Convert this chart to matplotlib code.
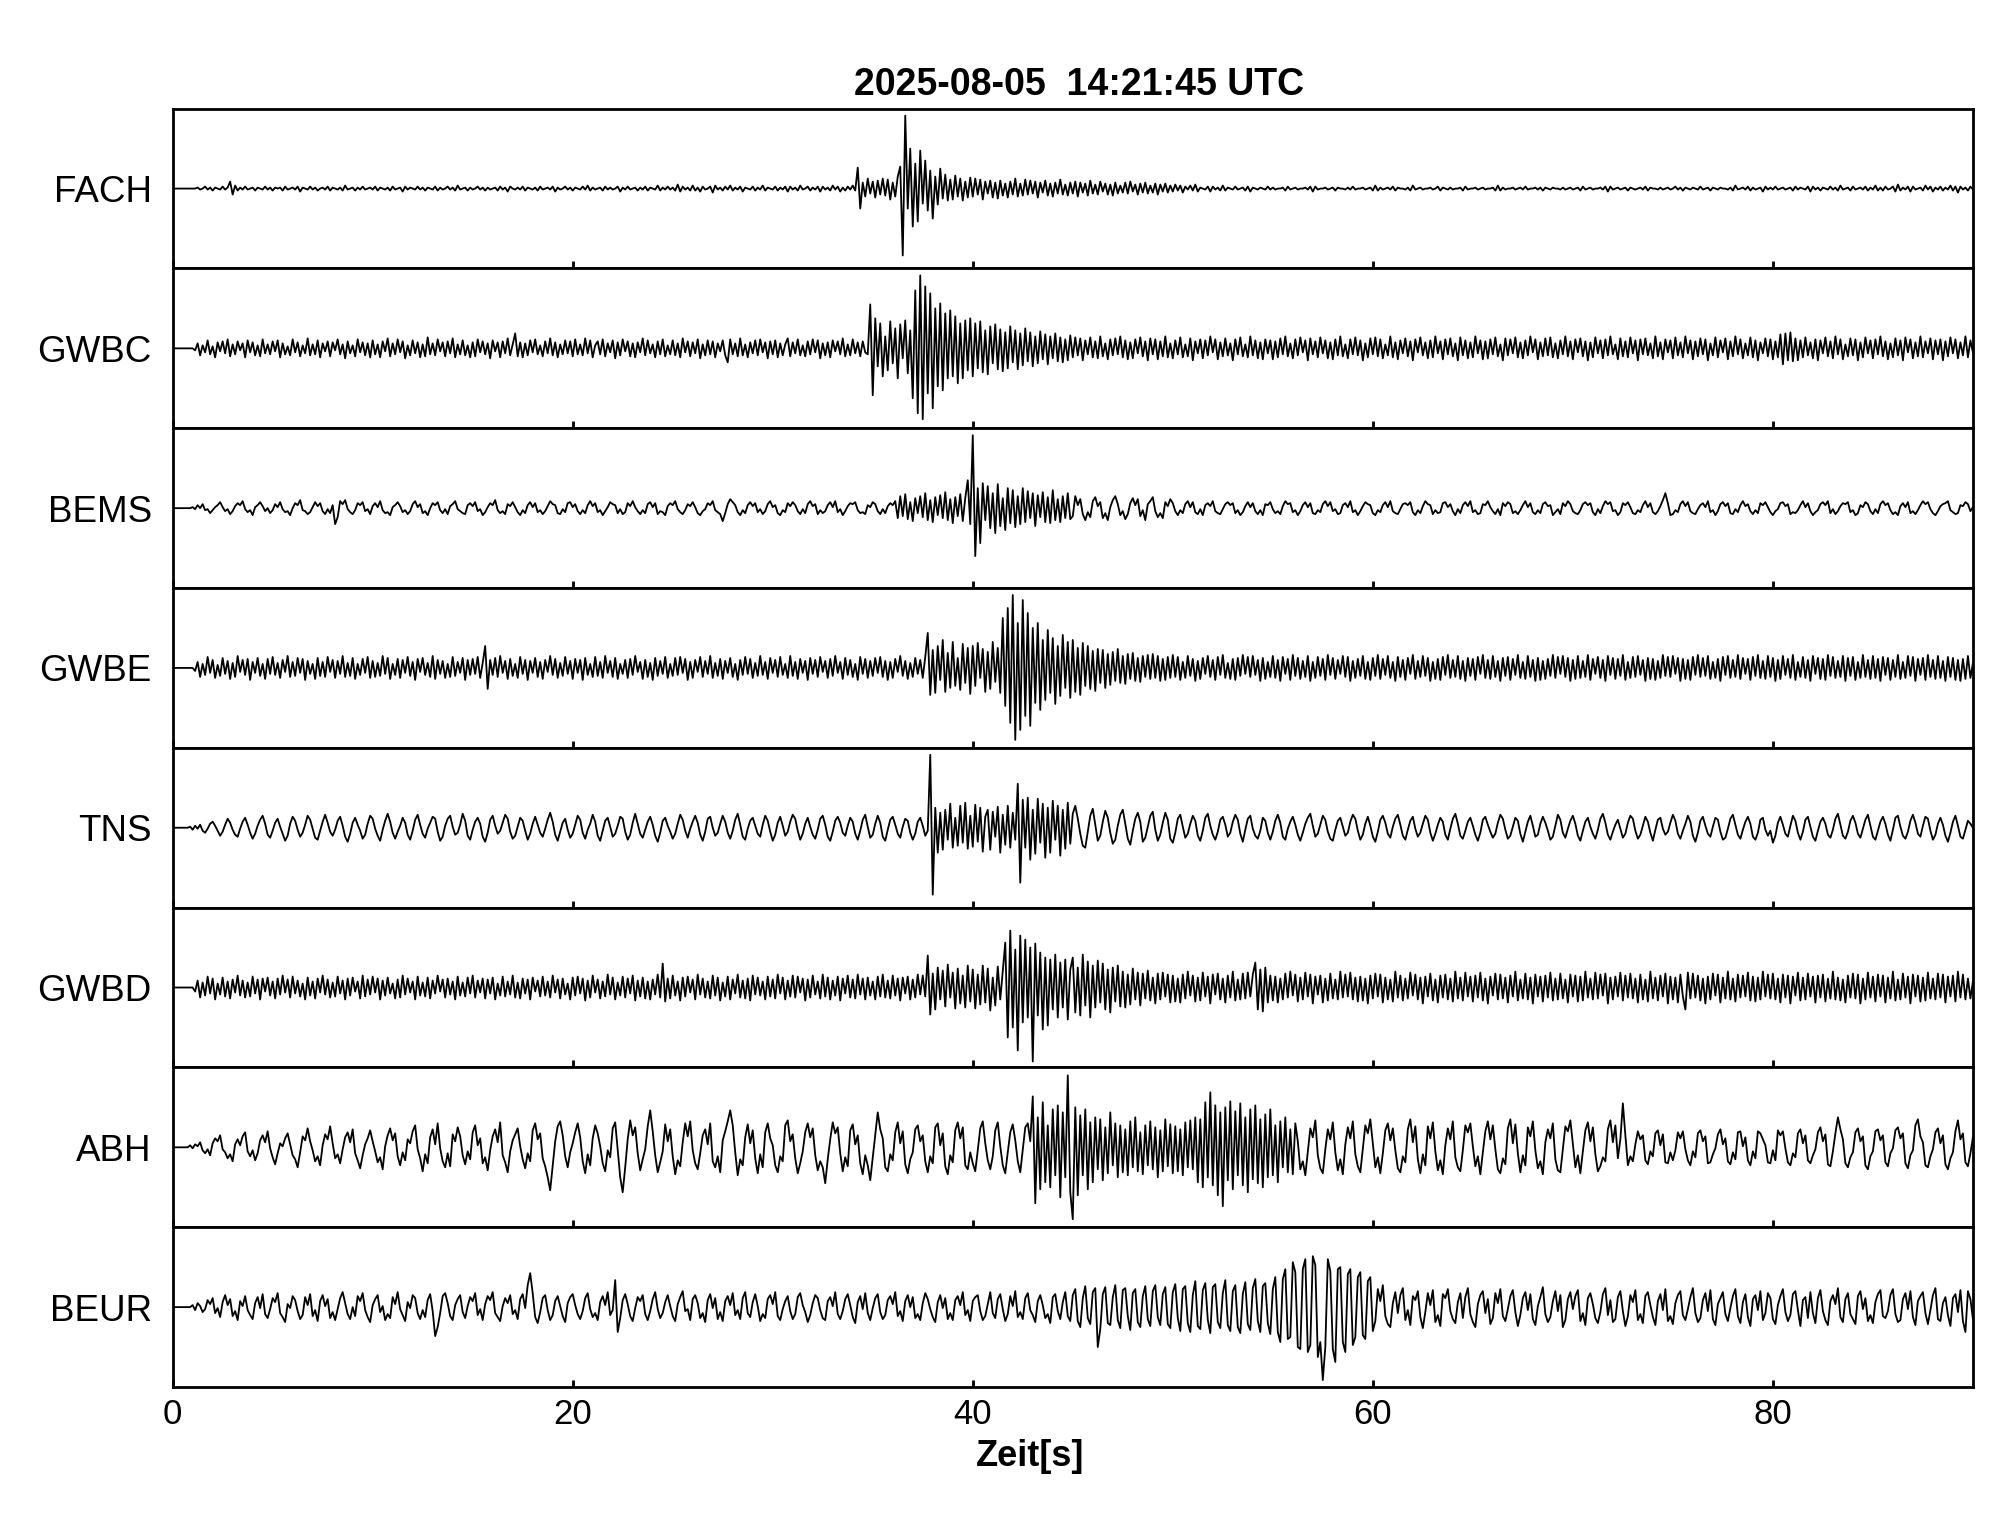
import numpy as np
import matplotlib
matplotlib.use("Agg")
import matplotlib.pyplot as plt

plt.rcParams['font.family'] = ['Liberation Sans', 'DejaVu Sans']

# station names, top to bottom
stations = ["FACH", "GWBC", "BEMS", "GWBE", "TNS", "GWBD", "ABH", "BEUR"]
title_text = "2025-08-05  14:21:45 UTC"
dt = 0.125  # seconds between samples

# traces, one line per 5 s (amplitude: +-80 = panel edge)
fach = [
    0,0,0,0,0,0,0,0,0,0, 1,-1,0,2,-1,1,-2,1,0,-1, 2,-1,1,7,-6,3,-2,1,-1,2, -1,0,1,-2,1,0,-1,2,-1,1,
    -2,1,0,1,-2,2,-1,0,1,-1, 2,-3,1,0,-1,2,-1,1,-2,0, 1,-1,2,-2,1,0,-1,1,-2,3, -1,0,1,-2,1,-1,2,-1,0,1,
    -1,2,-2,1,0,-1,1,-2,2,-1, 0,1,-3,2,-1,1,0,-1,2,-1, 1,-2,1,0,-1,2,-2,1,-1,0, 2,-1,1,-2,3,-1,0,1,-2,1,
    -1,0,2,-1,1,-2,1,-1,0,1, -2,2,-1,1,-3,2,0,-1,1,-1, 2,-2,1,0,-1,1,-2,2,-1,0, 1,-1,2,-3,1,-1,0,2,-1,1,
    -2,1,0,-1,2,-1,3,-2,1,-1, 0,1,-2,2,-1,1,-1,0,2,-3, 1,-1,2,-1,0,1,-2,1,-1,2, -2,1,0,-1,3,-2,1,-1,2,-1,
    1,-2,4,-3,2,-1,1,-2,3,-2, 1,-3,2,-1,0,2,-4,3,-1,1, -2,2,-1,3,-2,1,-1,2,-3,1, 0,-1,2,-2,1,-1,3,-2,1,0,
    -1,2,-2,1,-1,2,-3,2,-1,1, -2,3,-1,0,2,-2,1,-1,2,-3, 2,-1,1,-2,3,-1,2,-3,1,-2, 2,-1,3,-2,21,-20,6,-8,10,-5,
    7,-9,8,-6,10,-7,9,-11,6,-8, 12,22,-67,73,-20,40,-38,25,-33,38, -15,28,-22,18,-30,12,-16,20,-10,14, -12,9,-11,13,-8,10,-12,7,-9,11,
    -8,10,-6,9,-11,7,-5,8,-9,6, -10,8,-7,5,-9,7,-6,10,-8,5, -7,9,-6,8,-5,7,-9,6,-4,8, -7,5,-8,6,-5,9,-6,4,-7,6,
    -5,7,-8,6,-4,5,-7,8,-5,4, -6,7,-3,5,-6,4,-7,6,-5,3, -4,6,-5,7,-3,4,-6,5,-4,6, -5,3,-4,5,-6,4,-3,5,-4,3,
    -3,4,-2,3,-4,2,-1,3,-2,4, -3,1,0,-1,2,-3,2,-1,1,-2, 3,-2,1,0,-1,2,-1,0,1,-2, 2,-3,1,0,-1,1,0,-1,2,-1,
    1,-1,0,0,1,-2,2,-1,0,1, -1,0,0,1,-1,2,-3,2,-1,0, 0,1,-1,0,1,-2,1,0,0,-1, 1,-1,2,-1,0,0,1,-1,0,1,
    -2,3,-2,1,-1,0,1,-1,2,-2, 1,0,0,-1,1,-2,3,-1,0,1, -1,0,0,1,-1,0,2,-2,1,0, -1,1,-1,0,0,1,-2,2,-1,0,
    0,1,-1,0,1,-1,0,0,1,-2, 3,-2,1,-1,0,0,1,-1,0,1, -1,2,-1,0,0,1,-1,1,-2,1, 0,-1,1,0,0,-1,1,-1,0,1,
    -1,0,1,-2,2,-1,0,1,-1,0, 0,1,-1,2,-3,2,-1,0,1,-1, 0,1,-2,1,0,-1,0,1,-1,2, -2,1,0,0,-1,1,-1,0,1,-1,
    0,2,-1,1,-2,1,0,-1,1,0, -1,2,-1,0,1,-2,1,0,-1,1, 0,0,-1,1,-2,3,-1,0,1,-1, 2,-2,1,-1,0,1,-3,2,-1,1,
    -1,2,-1,0,1,-1,0,1,-2,2, -1,1,0,-1,2,-3,2,-1,1,-2, 1,0,-1,2,-1,1,-2,3,-1,0, 1,-2,2,-1,0,1,-1,2,-2,1,
    -1,3,-2,1,-2,2,-1,0,2,-3, 4,-2,1,-1,2,-3,2,-1,0,1, -2,3,-1,2,-3,1,-1,2,-2,1, -1,3,-2,2,-4,2,-1,1,-2,2,
    -1,
]
gwbc = [
    0,0,0,0,0,0,0,0,0,-2, 5,-7,3,-4,8,-6,2,-9,6,-3, 7,-5,9,-8,4,-6,7,-2,5,-9, 8,-4,6,-7,3,-8,9,-5,4,-6,
    7,-3,8,-9,5,-6,2,-7,9,-4, 6,-8,3,-5,10,-7,4,-6,8,-9, 5,-3,7,-8,6,-2,9,-6,4,-10, 7,-5,3,-8,9,-4,6,-7,5,-9,
    8,-6,4,-9,7,-3,10,-8,5,-6, 9,-4,7,-10,3,-7,8,-5,6,-9, 4,-8,11,-6,5,-7,9,-3,6,-8, 7,-5,10,-9,4,-6,8,-7,3,-9,
    6,-8,9,-4,7,-6,5,-10,8,-3, 6,-9,7,-5,10,-7,4,15,-8,6, -9,5,-7,8,-4,9,-6,3,-8,7, -5,10,-7,6,-9,4,-6,8,-5,7,
    -8,9,-6,4,-7,10,-5,8,-9,3, 7,-6,9,-8,5,-4,8,-10,6,-7, 9,-3,7,-8,5,-9,6,-4,10,-7, 8,-5,4,-9,7,-6,9,-8,3,-6,
    8,-7,5,-9,10,-4,7,-8,6,-5, 9,-10,4,-7,8,-6,7,-9,5,-3, 8,-7,-14,9,-6,5,-8,10,-7,4, -9,6,-5,8,-7,9,-4,6,-10,7,
    -6,8,-9,5,-7,4,10,-8,6,-5, 9,-7,3,-8,7,-6,9,-4,8,-10, 5,-7,6,-9,8,-3,7,-6,10,-8, 4,-7,9,-5,6,-8,7,-4,-6,44,
    -47,30,-18,25,-28,12,-22,27,-15,20, -30,24,-10,28,-25,18,-50,58,-65,73, -71,62,-45,55,-60,40,-38,45,-42,35, -30,38,-28,32,-35,25,-30,28,-22,30,
    -28,25,-20,27,-24,18,-26,22,-15,24, -21,19,-23,16,-20,22,-14,18,-21,15, -17,20,-13,16,-18,12,-15,17,-11,14, -16,12,-10,15,-13,11,-14,9,-12,13,
    -9,11,-7,10,-12,8,-6,11,-9,7, -10,12,-8,5,-11,9,-7,10,-6,12, -9,8,-11,6,-10,9,-5,11,-8,7, -12,10,-6,9,-11,7,-8,12,-9,5,
    -10,8,-6,11,-9,4,-8,10,-12,7, -5,9,-10,8,-7,12,-4,9,-11,6, -8,10,-7,5,-12,9,-6,11,-8,4, -9,12,-7,8,-10,6,-11,9,-5,8,
    -11,7,-9,10,-6,12,-8,5,-10,9, -7,11,-4,8,-12,10,-6,7,-9,11, -5,8,-10,6,-11,9,-7,12,-8,4, -10,9,-6,11,-7,8,-12,5,-9,10,
    -6,11,-8,9,-10,4,-7,12,-9,6, -11,8,-5,10,-8,7,-12,9,-4,11, -7,6,-10,8,-9,12,-5,7,-11,9, -6,10,-8,5,-12,11,-7,8,-10,6,
    -9,12,-5,8,-11,7,-10,9,-6,11, -8,4,-12,10,-7,9,-5,11,-9,6, -10,8,-7,12,-4,9,-11,6,-8,10, -7,11,-9,5,-10,8,-6,12,-8,7,
    -11,9,-4,10,-8,7,-12,6,-9,11, -5,8,-10,9,-7,12,-6,4,-11,10, -8,7,-9,11,-5,8,-12,9,-6,10, -7,5,-10,12,-8,6,-11,9,-4,8,
    -10,11,-7,6,-9,12,-5,8,-11,7, -8,10,-6,9,-12,5,-7,11,-9,8, -4,10,-11,7,-8,12,-6,9,-10,5, -7,11,-9,8,-12,6,-5,10,-8,9,
    -11,7,-9,14,-16,15,-12,16,-13,10, -12,8,-9,11,-7,6,-10,9,-12,8, -5,11,-8,7,-10,12,-6,9,-11,4, -8,10,-7,9,-12,6,-9,11,-5,8,
    -10,9,-6,12,-8,7,-11,5,-9,10, -7,8,-12,11,-4,9,-10,6,-8,12, -9,7,-5,10,-11,8,-6,9,-12,7, -8,11,-5,9,-10,6,-7,12,-9,8,
    -4,
]
bems = [
    0,0,0,0,0,0,0,0,1,-1, 3,0,4,-2,-1,-5,-2,1,3,6, 1,-3,-1,-6,-3,2,5,3,7,-1, -4,-2,-7,1,3,6,2,-3,0,-5,
    -2,4,1,6,-1,-4,-3,-7,0,5, 3,8,-2,-3,-6,-4,1,6,2,5, -3,-6,-1,-5,3,-16,-9,7,4,8, -1,-4,-6,-2,5,3,6,-3,-1,-6,
    2,5,1,7,-2,-5,-4,-7,1,3, 6,2,-4,-2,-6,-3,4,7,1,4, -5,-3,-7,0,5,3,6,-2,-5,-1, -6,2,4,7,-1,-3,-5,-6,3,5,
    2,6,-3,-1,-7,-4,1,5,3,8, -2,-5,-3,-6,4,2,6,1,-4,-7, -2,-5,3,6,1,5,-4,-2,-6,-3, 2,7,4,3,-5,-6,-1,-4,5,6,
    1,4,-3,-6,-2,-5,3,7,2,5, -4,-2,-7,-3,1,6,4,3,-5,-1, -6,-4,5,2,7,1,-3,-6,-2,-5, 4,6,1,5,-6,-3,-4,-7,2,5,
    3,7,-1,-4,-6,-2,4,2,6,1, -5,-7,-3,-1,5,3,7,-2,-4,-6, -13,-5,4,9,6,3,-4,-7,-2,-5, 3,6,2,5,-4,-1,-6,-3,4,7,
    1,3,-5,-7,-2,-4,5,2,6,3, -3,-6,-1,-5,4,7,2,4,-6,-2, -5,-3,3,6,1,7,-4,-1,-7,-3, 2,5,4,6,-2,-5,-4,-6,3,1,
    6,4,-3,-6,-1,-5,2,5,3,7, -10,12,-8,14,-11,6,-13,10,-5,12, -9,15,-12,8,-14,11,-7,13,-10,16, -12,9,-15,11,-8,14,-13,10,28,-16,
    73,-48,20,-35,25,-12,22,-20,15,-25, 24,-18,10,-22,20,-15,18,-19,12,-16, 20,-14,17,-10,15,-18,13,-9,16,-14, 11,-15,18,-12,9,-14,12,-10,15,-11,
    -8,12,3,9,-6,-12,-4,-9,7,11, 2,6,-10,-5,-12,1,8,12,4,-7, -3,-11,-6,5,10,3,9,-8,-2,-12, 4,7,11,-3,-9,-5,-10,6,2,9,
    5,-3,-7,-2,-5,4,7,1,6,-4, -6,-1,-7,3,5,2,7,-3,-5,-6, -1,4,6,3,5,-5,-2,-7,-4,2, 6,1,5,-3,-6,-2,-7,4,3,6,
    -1,-5,-3,-6,2,7,4,5,-4,-2, -7,-3,3,6,1,5,-5,-6,-2,-4, 4,7,2,6,-3,-1,-6,-5,3,5, 1,7,-4,-2,-7,-3,2,6,4,3,
    -5,-7,-2,-4,3,6,1,7,-3,-5, -6,-1,4,5,3,6,-4,-7,-2,-5, 2,7,4,3,-6,-2,-5,-4,5,6, 1,4,-3,-7,-1,-5,3,6,2,7,
    -4,-2,-6,-5,4,3,7,1,-3,-6, -1,-7,5,2,6,4,-5,-3,-6,-2, 3,7,1,5,-4,-6,-2,-5,4,6, 2,3,-7,-4,-1,-6,5,2,7,4,
    -3,-5,-6,-2,4,6,3,5,-4,-7, -1,-5,2,7,4,6,-3,-2,-7,-4, 5,3,6,1,-5,-6,-2,-4,3,7, 1,5,-4,-6,-3,2,8,15,5,-7,
    -6,-2,-4,4,7,2,6,-3,-5,-6, -1,3,5,1,7,-4,-2,-7,-3,4, 6,2,5,-5,-6,-1,-4,3,7,2, 4,-3,-6,-2,-5,5,3,6,1,-4,
    -7,-3,-1,5,6,2,4,-6,-4,-5, -2,3,7,1,5,-3,-7,-4,-2,4, 6,3,7,-5,-1,-6,-3,2,5,4, 6,-4,-2,-7,-5,3,1,6,4,-3,
    -6,-1,-5,4,7,3,5,-2,-6,-4, -7,2,5,1,6,-5,-3,-6,-2,3, 7,4,6,-1,-5,-7,-3,2,4,5, 7,-2,-4,-6,-5,3,2,6,4,-3,
    1,
]
gwbe = [
    0,0,0,0,0,0,0,0,0,-3, 6,-9,4,-7,11,-5,8,-10,3,-8, 10,-6,7,-11,5,-9,12,-4,8,-7, 9,-12,6,-5,10,-8,4,-11,9,-6,
    11,-7,5,-10,8,-4,12,-9,6,-8, 10,-5,9,-12,7,-6,4,-11,10,-8, 6,-9,11,-4,8,-10,7,-6,12,-9, 5,-8,10,-11,4,-7,9,-5,11,-10,
    7,-9,5,-8,12,-6,10,-11,4,-7, 9,-10,8,-5,11,-8,6,-12,9,-4, 10,-7,5,-9,12,-11,8,-6,7,-10, 4,-9,11,-8,6,-5,10,-12,8,-7,
    9,-6,11,-10,5,22,-21,8,-7,10, -9,12,-5,7,-11,9,-8,4,-10,11, -6,8,-12,7,-5,10,-9,6,-11,8, -4,12,-7,9,-10,5,-8,11,-6,7,
    -11,9,-5,8,-12,10,-7,4,-9,11, -8,6,-10,12,-5,7,-9,10,-11,4, -6,8,-10,9,-7,12,-4,6,-11,8, -9,5,-12,10,-8,7,-6,11,-10,4,
    -8,10,-7,11,-5,9,-12,6,-10,8, -4,11,-9,7,-6,12,-10,5,-8,9, -11,7,-5,10,-9,4,-12,8,-7,11, -6,9,-10,5,-8,12,-7,6,-11,10,
    -5,8,-9,11,-7,4,-10,12,-8,6, -11,9,-5,7,-12,10,-6,8,-9,11, -4,7,-10,9,-8,12,-5,6,-11,10, -7,8,-9,4,-12,11,-6,9,-10,7,
    -8,10,-5,11,-9,7,-12,6,-10,9, -4,12,-8,7,-11,5,-9,10,-6,8, -10,11,35,-27,18,-25,22,-12,28,-24, 15,-20,26,-18,10,-22,24,-15,20,-26,
    22,-18,25,-10,19,-24,16,-21,26,-14, 20,-25,50,-38,60,-55,73,-72,45,-62, 68,-48,55,-58,40,-35,45,-42,28,-32, 38,-25,30,-36,22,-28,33,-20,26,-30,
    28,-24,20,-27,25,-18,22,-21,17,-23, 19,-15,18,-20,14,-17,16,-13,19,-15, 12,-16,14,-11,15,-13,10,-14,12,-9, 13,-11,14,-10,12,-13,9,-12,11,-10,
    13,-9,11,-12,6,-10,12,-8,9,-13, 7,-11,10,-6,12,-9,8,-12,11,-7, 13,-10,5,-11,9,-12,10,-8,13,-6, 11,-9,12,-7,8,-13,10,-11,6,-9,
    12,-10,8,-13,11,-6,9,-12,13,-8, 10,-11,7,-9,12,-13,6,-10,11,-8, 9,-12,13,-7,10,-11,8,-6,12,-9, 11,-13,7,-10,9,-8,12,-11,6,-12,
    10,-8,13,-11,9,-7,12,-10,6,-13, 11,-9,8,-12,10,-6,13,-11,7,-9, 12,-8,10,-13,6,-11,9,-12,11,-7, 13,-10,8,-9,12,-11,7,-13,10,-8,
    9,-12,11,-6,13,-10,8,-11,12,-9, 7,-13,10,-8,11,-12,9,-7,13,-10, 6,-11,12,-9,8,-13,10,-12,7,-11, 9,-8,13,-10,11,-6,12,-9,10,-13,
    8,-11,12,-10,7,-9,13,-12,9,-6, 11,-10,8,-13,12,-7,10,-11,9,-8, 13,-12,6,-10,11,-9,12,-7,8,-13, 10,-11,9,-12,7,-10,13,-8,11,-9,
    12,-6,10,-13,9,-11,8,-12,11,-7, 13,-9,10,-8,12,-11,6,-10,9,-13, 11,-7,12,-10,8,-9,13,-11,10,-6, 9,-12,11,-8,13,-10,7,-11,12,-9,
    10,-13,8,-11,12,-7,9,-10,13,-12, 6,-9,11,-10,8,-13,12,-6,10,-11, 9,-12,13,-8,11,-10,7,-9,12,-13, 10,-8,11,-12,6,-10,13,-9,8,-11,
    12,-10,9,-13,11,-7,10,-12,8,-9, 13,-11,6,-10,12,-8,11,-13,9,-7, 10,-12,13,-9,8,-11,12,-10,7,-13, 11,-9,10,-12,8,-13,9,-11,12,-10,
    5,
]
tns = [
    0,0,0,0,0,0,0,1,-2,2, -1,3,-3,-5,-1,4,6,2,-3,-8, -4,3,9,5,-2,-7,-9,-1,6,10, 3,-5,-11,-6,2,8,12,4,-7,-10,
    -3,5,9,1,-6,-13,-8,4,11,7, -2,-9,-5,3,12,8,-1,-10,-12,-3, 6,13,5,-4,-8,-2,7,11,2,-9, -14,-6,5,10,3,-3,-11,-7,4,12,
    9,-1,-8,-13,-2,7,14,6,-5,-11, -4,2,10,5,-7,-12,-3,8,13,3, -6,-10,-1,5,11,9,-4,-13,-9,2, 9,12,1,-7,-5,3,14,7,-8,-12,
    -2,6,10,4,-9,-14,-5,8,12,2, -6,-3,5,13,9,-4,-11,-8,1,10, 7,-3,-12,-6,4,11,3,-5,-9,-1, 8,15,6,-7,-13,-4,5,9,-2,-10,
    -6,3,12,8,-5,-11,-2,4,13,6, -8,-13,-3,7,10,1,-9,-6,2,11, 9,-4,-12,-7,5,14,4,-6,-10,-2, 6,11,3,-8,-14,-5,7,10,2,-4,
    -11,-6,4,13,8,-3,-10,-1,6,12, 5,-7,-13,-4,9,11,0,-8,-5,4, 12,6,-5,-11,-3,8,14,3,-9,-12, -1,7,10,2,-6,-9,3,12,7,-4,
    -13,-7,5,11,2,-8,-4,6,13,9, -3,-12,-6,4,10,1,-7,-11,-2,9, 12,3,-9,-13,-4,7,11,5,-5,-8, 2,10,6,-6,-12,-3,8,13,1,-10,
    -7,4,12,5,-9,-13,-2,8,11,3, -6,-10,1,9,7,-5,-12,-6,6,10, 2,-8,-3,73,-67,20,-25,15,-22,18, -12,24,-20,10,-18,22,-15,25,-21,12,
    -19,23,-14,20,-24,11,18,-22,16,-9, 21,-25,13,-17,22,-20,15,-12,44,-55, 28,-20,30,-32,18,-26,29,-15,24,-30, 20,-25,27,-12,22,-28,18,-21,25,-16,
    14,22,9,-6,-18,-20,-4,12,19,3, -13,-8,6,17,10,-5,-16,-12,2,13, 18,4,-11,-17,-3,9,15,6,-14,-10, 1,12,16,-2,-13,-7,5,15,8,-11,
    -15,-5,9,13,1,-10,-6,4,12,7, -8,-13,-3,10,14,2,-7,-12,-4,8, 11,3,-9,-5,6,13,8,-6,-14,-2, 9,12,-1,-8,-11,-3,10,7,-5,-12,
    -4,7,13,5,-9,-12,-1,6,11,3, -7,-13,-5,4,10,14,2,-9,-6,3, 12,8,-4,-11,-13,-2,7,10,1,-8, -5,6,13,9,-3,-12,-7,4,11,2,
    -9,-14,-4,8,12,5,-6,-10,1,9, 13,3,-8,-12,-2,7,11,-1,-9,-5, 4,12,8,-5,-13,-6,3,10,6,-7, -12,-1,9,14,4,-8,-11,-3,6,10,
    2,-7,-13,-5,8,11,3,-4,-10,-6, 5,13,9,-2,-11,-8,1,10,7,-6, -14,-4,6,12,2,-9,-7,4,11,5, -3,-12,-9,2,13,8,-5,-10,-1,7,
    12,4,-8,-13,-3,6,10,1,-6,-11, -2,9,14,5,-7,-12,-4,3,8,-1, -10,-6,5,12,9,-3,-11,-7,2,11, 6,-5,-13,-2,8,10,-1,-7,-4,5,
    13,7,-6,-11,-3,4,12,6,-8,-14, -5,7,11,2,-6,-9,1,10,8,-4, -12,-10,-1,9,13,3,-7,-11,-2,6, 11,4,-9,-12,-5,8,10,-2,-8,-3,
    -15,-8,5,11,3,-6,-9,2,12,7, -5,-12,-4,8,11,1,-9,-13,-3,6, 10,4,-7,-10,-2,9,14,3,-8,-11, -4,7,12,5,-6,-10,-1,8,13,2,
    -9,-12,-3,6,11,4,-7,-13,-2,10, 12,1,-8,-11,-4,7,13,5,-6,-9, 2,11,9,-3,-12,-7,4,10,3,-8, -14,-5,6,12,2,-9,-11,-2,7,4,
    0,
]
gwbd = [
    0,0,0,0,0,0,0,0,0,-4, 7,-10,5,-8,11,-6,9,-12,4,-7, 10,-9,6,-11,8,-5,12,-8,7,-10, 5,-9,11,-6,8,-12,9,-4,10,-8,
    6,-11,9,-7,12,-5,8,-10,11,-6, 7,-9,4,-12,10,-8,6,-11,9,-5, 12,-7,8,-10,5,-9,11,-6,7,-12, 9,-8,10,-4,6,-11,12,-9,8,-7,
    11,-5,9,-12,7,-8,10,-6,4,-11, 8,-10,12,-7,9,-5,6,-12,11,-8, 5,-9,10,-11,7,-6,12,-4,8,-10, 9,-7,6,-12,11,-8,5,-9,10,-6,
    12,-10,7,-5,9,-11,8,-6,10,-12, 4,-8,11,-9,6,-7,12,-10,5,-11, 9,-6,8,-12,10,-4,7,-9,11,-8, 6,-10,12,-5,8,-11,9,-7,4,-12,
    10,-8,11,-6,9,-13,7,-10,12,-5, 8,-11,6,-9,13,-7,10,-12,5,-8, 11,-10,9,-6,12,-13,7,-9,10,-11, 6,-12,8,-7,13,-10,24,-14,9,-11,
    12,-8,6,-13,10,-9,11,-5,8,-12, 13,-7,9,-10,6,-11,12,-8,10,-13, 5,-9,11,-12,8,-6,13,-10,7,-11, 9,-13,12,-7,10,-8,6,-12,11,-9,
    8,-11,13,-6,10,-12,7,-9,12,-10, 11,-5,9,-13,8,-10,12,-7,6,-11, 13,-9,10,-12,7,-8,11,-13,9,-6, 12,-10,8,-11,13,-7,9,-12,10,-8,
    6,-12,11,-9,13,-10,7,-11,12,-8, 9,-13,10,-6,11,-12,8,-10,13,-7, 12,-9,32,-27,14,-22,20,-12,17,-19, 23,-10,15,-21,19,-16,12,-20,22,-14,
    18,-21,13,-17,22,-15,19,-23,10,-18, 21,-12,16,45,-50,57,-40,38,-63,52, -35,48,-30,40,-74,44,-28,35,-42,30, -38,28,-22,33,-30,25,-20,28,-32,18,
    30,-25,20,-28,33,-18,26,-30,22,-20, 27,-15,24,-22,18,-25,20,-14,22,-19, 16,-20,13,-17,19,-12,15,-18,14,-11, 17,-13,10,-16,14,-12,15,-9,13,-15,
    12,-14,9,-15,13,-11,16,-8,12,-14, 10,-13,15,-9,11,-16,13,-7,14,-12, 9,-15,12,-10,16,-13,8,-12,14,-11, 15,-9,13,25,-22,18,-24,20,-15,12,
    -13,11,-15,9,-12,14,-10,16,-8,13, -14,10,-12,15,-9,13,-16,11,-7,12, -15,9,-13,14,-11,8,-12,16,-10,13, -9,15,-12,10,-14,11,-13,9,-16,12,
    -11,14,-9,13,-15,10,-12,8,-14,16, -10,12,-13,9,-11,15,-8,13,-12,10, -16,11,-9,14,-13,8,-15,12,-10,13, -12,9,-14,16,-11,10,-13,15,-9,11,
    -14,12,-10,15,-13,9,-16,11,-8,14, -12,13,-11,10,-15,12,-9,16,-13,8, -11,14,-12,10,-16,13,-9,11,-14,12, -10,15,-13,9,-12,14,-11,8,-15,13,
    -9,12,-14,11,-13,16,-10,9,-12,15, -11,13,-8,14,-16,10,-12,11,-9,15, -13,12,-10,14,-11,9,-15,13,-12,8, -14,16,-11,10,-13,12,-9,14,-16,11,
    -12,10,-15,13,-9,-22,15,-11,14,-10, 12,-13,9,-16,11,-12,14,-8,13,-15, 10,-11,16,-12,9,-14,13,-10,12,-9, 15,-13,11,-14,10,-12,16,-9,13,-11,
    14,-12,9,-15,13,-10,12,-16,11,-8, 15,-13,10,-12,14,-9,11,-15,12,-10, 13,-14,9,-11,16,-12,10,-13,8,-15, 12,-10,14,-11,13,-16,9,-12,15,-10,
    11,-14,13,-9,12,-15,10,-11,16,-13, 8,-12,14,-10,11,-16,13,-9,12,-14, 10,-13,15,-11,9,-12,14,-10,13,-15, 11,-9,12,-14,16,-10,13,-12,9,-11,
    6,
]
abh = [
    0,0,0,0,0,0,0,2,-1,3, 1,5,-3,-6,-2,-8,4,9,6,12, -2,-5,-11,-7,-14,3,8,2,11,15, -4,-9,-3,-13,-6,7,12,5,16,-1,
    -10,-17,-6,4,1,9,14,3,-8,-12, -20,-5,11,7,19,6,-3,-14,-9,-18, 2,13,8,21,4,-11,-7,-16,-2,10, 15,5,18,-6,-13,-21,-8,3,9,17,
    6,-4,-15,-10,-22,1,12,19,7,14, -9,-18,-5,-13,8,4,16,22,-2,-11, -24,-7,-16,10,18,3,24,-1,-14,-20, -6,-19,13,6,20,11,-8,-17,-4,-12,
    15,22,2,9,-16,-10,-23,-3,11,18, 5,25,-8,-15,-25,-4,7,13,19,1, -12,-21,-6,-14,17,24,8,14,-11,-19, -30,-43,-18,6,21,26,12,-9,-20,-5,
    4,15,24,10,-14,-26,-7,-18,9,22, 14,1,-16,-24,-3,-10,19,25,-2,-30, -45,-20,8,27,12,20,-6,-23,-12,-2, 21,37,16,-8,-25,-15,-4,23,6,18,
    -9,-27,-13,-19,5,24,11,26,-3,-16, -22,-6,12,18,3,24,-14,-20,-9,-25, 7,16,26,37,22,-5,-28,-12,-18,10, 23,4,17,-11,-26,-7,-20,15,24,9,
    2,-18,-25,-9,-14,22,27,6,13,-11, -26,-16,-4,15,24,10,19,-8,-23,-14, -20,-36,-12,8,25,14,20,-6,-24,-10, -19,17,23,3,12,-16,-27,-8,-18,-33,
    -10,14,35,18,9,-20,-24,-7,-13,15, 25,4,16,-17,-26,-12,-5,18,22,6, 12,-14,-25,-9,-16,20,24,2,14,-19, -27,-8,-15,17,25,9,20,-18,-22,-5,
    -16,-24,-3,19,26,4,-13,-22,-9,17, 25,1,-18,-26,-5,15,23,7,-14,-25, -2,20,24,6,51,-56,30,-42,45,-35, 22,-40,38,-28,42,-50,35,-30,72,-45,
    -72,40,-48,32,-28,38,-42,25,-35,30, -22,28,-33,20,-26,35,-18,24,-30,22, -25,18,-28,26,-20,30,-24,15,-27,22, -18,26,-22,20,-30,17,-24,28,-19,23,
    -26,21,-24,18,-28,25,-20,27,-22,30, -35,28,-40,45,-30,55,-38,42,-48,35, -59,40,-33,46,-42,36,-28,44,-38,30, -45,38,-32,42,-36,28,-40,33,-30,38,
    -28,22,-35,26,-20,30,-25,18,-27,24, 6,-22,-14,-28,-4,19,10,27,-8,-21, -26,-2,18,8,25,-5,-23,-12,-27,3, 20,9,26,-7,-19,-25,-1,22,14,28,
    4,-20,-10,-26,-6,17,24,7,19,-3, -21,-25,-9,-15,18,28,5,21,-12,-26, -7,-18,21,9,25,-4,-23,-13,-27,2, 19,8,26,-10,-20,-24,-3,22,15,24,
    1,-19,-9,-27,-5,16,26,8,22,-2, -22,-26,-11,-17,19,28,4,23,-6,-25, -8,-18,20,11,26,-3,-21,-14,-27,5, 18,9,24,-12,-23,-25,-2,21,16,27,
    3,-20,-8,-26,-4,17,25,6,20,-7, -24,-19,-10,-14,18,27,5,22,-11,8, 44,12,-18,-9,-14,3,16,8,12,-13, -17,-4,-9,14,17,2,13,-15,-16,-5,
    -13,-3,15,9,16,-2,-13,-18,-4,-10, 14,17,6,11,-16,-15,-7,-1,13,18, 3,9,-14,-17,-5,-12,15,16,1,10, -13,-18,-4,-11,16,14,8,2,-15,-16,
    -3,-13,17,12,16,-1,-15,-18,-6,-10, 14,18,4,12,-13,-16,-8,-2,15,20, 6,13,-17,-19,-4,14,30,18,8,-16, -20,-10,-5,15,19,6,11,-18,-22,-9,
    -4,16,18,7,12,-15,-19,-6,-1,17, 20,9,14,-16,-21,-8,-3,22,28,11, 5,-18,-20,-9,-2,15,19,4,12,-17, -22,-11,-5,16,27,8,14,-15,-19,-6,
    10,
]
beur = [
    0,0,0,0,0,0,0,0,2,-3, 4,1,-5,-2,7,3,9,-6,-1,-10, 5,12,2,8,-9,-4,-13,6,1,11, -3,-8,-12,4,10,-1,13,-7,-11,-2,
    9,5,14,-6,-10,-15,3,-1,11,7, -4,-12,-8,10,2,13,-9,-3,-14,6, 12,1,8,-11,-5,-13,-2,9,15,4, -7,-12,0,-9,11,6,14,-3,-10,-15,
    2,8,12,-5,1,-13,-7,-11,10,3, 15,-2,-8,-14,5,-1,12,9,-6,-12, -3,-10,7,13,-4,-29,-20,-6,11,14, 4,-9,-13,2,8,12,-5,-11,1,10,
    6,14,-8,-2,-13,3,11,7,15,-6, -10,-14,1,9,4,12,-7,-3,-12,8, 13,-1,22,34,14,-10,-16,-5,9,12, -3,-13,-8,6,11,1,-9,-15,4,10,
    13,2,-7,-12,-4,9,14,-2,-10,-6, -13,5,11,2,15,-8,-3,27,-25,-11, 7,13,3,-9,-14,-1,10,6,12,-7, -13,-4,8,15,-2,-11,-6,5,12,1,
    -9,-14,3,10,16,-4,-2,-13,8,12, 4,-11,-6,-15,7,13,-1,9,-12,-5, -14,6,11,2,14,-8,-3,-12,9,15, -6,-10,5,13,1,-14,-7,-11,8,12,
    3,15,-9,-13,-2,6,11,-4,-12,-7, 10,14,2,-5,-15,-8,4,12,9,-3, -11,-13,6,10,1,15,-7,-12,-4,8, 13,2,-10,-16,5,11,-2,14,-6,-13,
    -1,9,13,-5,-12,-8,7,11,3,15, -9,-4,-14,6,12,0,10,-11,-7,-13, 4,14,8,-2,-10,-15,5,12,-1,9, -12,-6,-13,7,11,2,15,-8,-3,-14,
    6,10,12,-4,-13,-9,3,15,-6,-11, 8,13,-2,-14,-7,11,1,16,-10,-5, -12,9,14,-3,-8,-15,6,12,2,-11, -7,-16,10,13,-4,-12,5,15,-9,-14,
    12,18,-14,-20,9,21,-11,-17,15,19, -40,-22,13,20,-16,-18,10,22,-13,-21, 17,19,-9,-23,14,18,-15,-20,11,21, -12,-19,16,22,-10,-18,13,20,-17,-21,
    15,23,-11,-24,18,21,-16,-25,12,26, -19,-22,17,24,-13,-26,20,23,-15,-21, 14,27,-18,-24,16,22,-20,-26,13,25, -17,-23,19,28,-14,-25,21,24,-16,-27,
    18,30,-25,-35,28,38,-32,-30,45,35, -40,-42,38,48,-45,-38,51,42,-50,-35, -73,-40,48,36,-42,-55,38,40,-35,-45, 33,38,-38,-30,30,35,-28,-32,26,30,
    -24,-14,18,6,22,-9,-17,-20,4,15, -6,12,19,-13,-3,-18,11,7,16,-10, -21,-5,14,2,17,-15,-8,-19,13,9, 18,-4,-12,-16,5,14,-11,10,19,-7,
    -15,-20,3,12,16,-6,8,-17,-11,14, 4,18,-9,-14,-2,11,17,-5,-19,-8, 9,15,-3,13,-12,-18,1,10,20,-7, -15,-10,6,16,-4,12,-20,-13,8,15,
    -2,11,17,-14,-6,-18,9,14,3,-11, -16,-5,13,19,-8,7,-15,-12,10,16, -4,-19,-9,12,5,17,-13,-7,-16,11, 15,2,-10,-18,6,13,-3,18,-14,-9,
    -17,4,12,16,-8,-13,-2,10,19,-6, -15,-11,7,14,-4,17,-12,-18,3,9, 15,-7,-14,-1,11,18,-9,-16,5,13, -10,-19,8,12,-3,16,-13,-6,14,9,
    -12,-17,2,11,18,-5,-14,-8,13,16, -3,-19,7,10,-11,15,-6,-16,9,17, -4,-13,-18,6,12,3,19,-10,-15,8, 14,-7,-12,-17,11,16,-2,9,-14,-8,
    -16,5,13,17,-9,-11,-4,12,18,-7, -15,-13,8,14,-2,16,-10,-18,6,11, 15,-6,-17,-3,12,19,-12,-14,4,10, -8,-19,9,13,-5,17,-14,-25,16,8,
    -12,
]
traces = [fach, gwbc, bems, gwbe, tns, gwbd, abh, beur]

fig, axes = plt.subplots(len(stations), 1, figsize=(20.05, 15.22), dpi=100,
                         sharex=True, gridspec_kw={"hspace": 0})
fig.subplots_adjust(left=0.0861, right=0.984, top=0.9286, bottom=0.0887)

for ax, name, tr in zip(axes, stations, traces):
    t = np.arange(len(tr)) * dt
    ax.plot(t, tr, color="black", lw=1.3)
    ax.set_xlim(0, 90)
    ax.set_ylim(-80, 80)
    ax.set_yticks([0])
    ax.set_yticklabels([name], fontsize=26.5)
    ax.tick_params(axis="y", length=0, pad=15)
    ax.tick_params(axis="x", direction="in", length=5, width=2, top=False,
                   labelsize=25, pad=8)
    for s in ax.spines.values():
        s.set_linewidth(2.0)

axes[-1].set_xticks([0, 20, 40, 60, 80])
axes[-1].set_xlabel("Zeit[s]", fontsize=26, fontweight="bold", labelpad=6, x=0.476)
axes[0].set_title(title_text, fontsize=27, fontweight="bold", pad=10, x=0.5036)

fig.savefig("out.png", dpi=100)
